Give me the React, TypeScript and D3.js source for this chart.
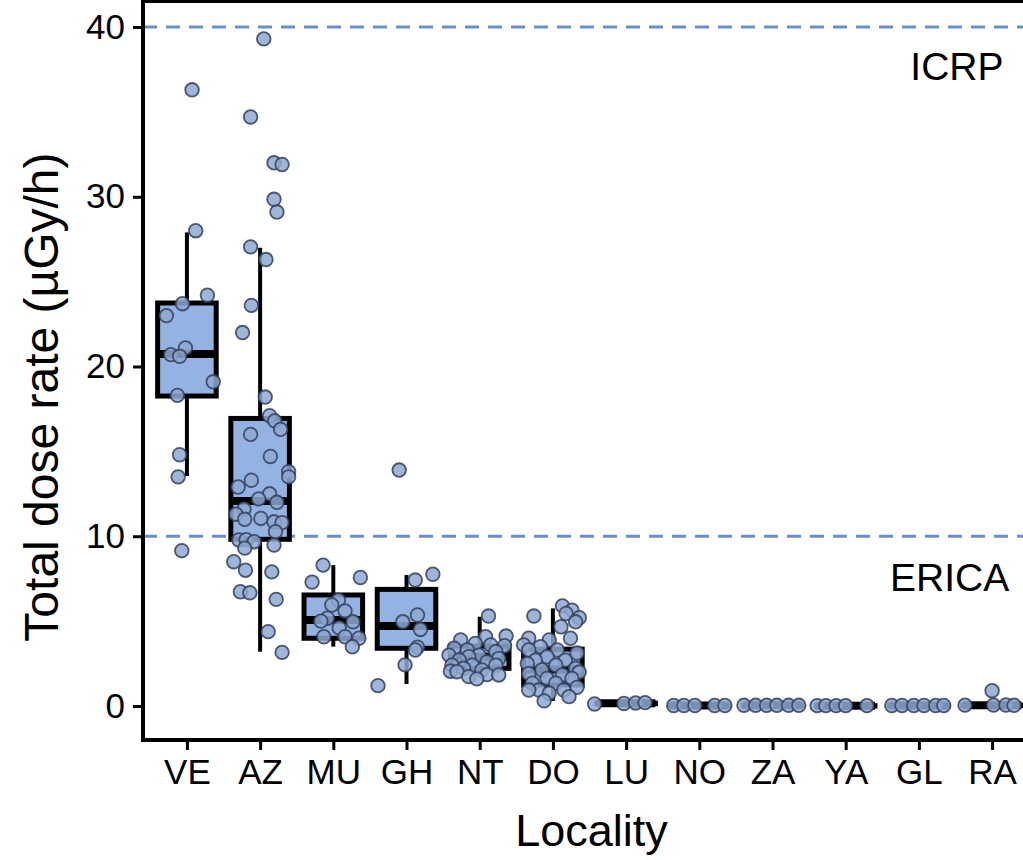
import React from "react";
import * as d3 from "d3";

const width = 1023;
const height = 860;
const margin = { top: 0, left: 143, right: -14, bottom: 120 };

const localities = ["VE", "AZ", "MU", "GH", "NT", "DO", "LU", "NO", "ZA", "YA", "GL", "RA"];
const yTicks = [0, 10, 20, 30, 40];
const limits = [{ label: "ICRP", value: 40, at: 10.52, textValue: 37.7 }, { label: "ERICA", value: 10, at: 10.42, textValue: 7.55 }];

// box stats: [lowerWhisker, q1, median, q3, upperWhisker]
const boxStats = [
  [13.55, 18.26, 20.74, 23.74, 27.9],
  [3.2, 9.82, 12.08, 16.94, 27.0],
  [3.5, 3.99, 5.07, 6.54, 8.3],
  [1.3, 3.4, 4.71, 6.87, 7.72],
  [1.73, 2.22, 2.9, 3.53, 5.26],
  [0.3, 1.24, 2.15, 3.35, 5.75],
  [0.12, 0.15, 0.16, 0.17, 0.2],
  [0.02, 0.03, 0.03, 0.03, 0.04],
  [0.03, 0.04, 0.04, 0.04, 0.05],
  [0.01, 0.02, 0.02, 0.02, 0.03],
  [0.02, 0.03, 0.03, 0.03, 0.04],
  [0.03, 0.05, 0.05, 0.05, 0.06],
];

// jittered observations: [offset in category units, dose rate]
const veDots = [[0.07, 36.3], [0.12, 28.0], [0.28, 24.2], [-0.06, 23.7], [-0.28, 23.0], [-0.02, 21.1], [-0.22, 20.7], [-0.1, 20.6], [0.36, 19.1], [-0.13, 18.3], [-0.1, 14.8], [-0.12, 13.5], [-0.07, 9.15]];
const azDots = [[0.05, 39.3], [-0.13, 34.7], [0.19, 32.0], [0.3, 31.9], [0.19, 29.85], [0.23, 29.1], [-0.13, 27.05], [0.08, 26.3], [-0.12, 23.6], [-0.24, 22.0], [0.07, 18.2], [0.13, 17.1], [0.2, 16.8], [0.28, 16.3], [-0.13, 16.0], [0.14, 14.7], [0.39, 13.8], [0.39, 13.5], [-0.12, 13.3], [-0.3, 12.9], [0.13, 12.5], [-0.02, 12.2], [0.23, 12.0], [-0.22, 11.6], [-0.33, 11.3], [-0.21, 11.0], [0.01, 11.05], [0.19, 10.85], [0.3, 10.8], [0.21, 10.27], [-0.29, 9.78], [-0.19, 9.8], [-0.08, 9.68], [0.19, 9.48], [-0.21, 9.3], [-0.36, 8.5], [-0.2, 8.0], [0.16, 7.9], [-0.27, 6.73], [-0.14, 6.67], [0.22, 6.28], [0.11, 4.38], [0.3, 3.16]];
const muDots = [[-0.14, 8.3], [-0.29, 7.3], [0.37, 7.57], [0.07, 6.24], [-0.02, 5.95], [0.16, 5.6], [0.27, 4.96], [-0.08, 5.17], [-0.17, 5.0], [0.08, 4.6], [-0.13, 4.08], [0.16, 4.08], [0.35, 3.99], [0.26, 3.49]];
const ghDots = [[-0.1, 13.9], [0.36, 7.76], [0.12, 7.42], [0.15, 5.36], [-0.05, 4.96], [0.19, 4.51], [0.15, 3.46], [0.12, 3.3], [-0.02, 2.42], [-0.39, 1.2]];
const ntDots = [[0.12, 5.3], [0.36, 4.12], [0.08, 4.08], [-0.26, 3.89], [-0.06, 3.69], [0.15, 3.6], [0.34, 3.55], [-0.35, 3.4], [-0.17, 3.3], [0.22, 3.2], [-0.42, 3.0], [-0.01, 3.0], [-0.15, 2.9], [0.26, 2.8], [-0.28, 2.71], [0.1, 2.6], [-0.1, 2.4], [0.22, 2.4], [-0.38, 2.4], [-0.22, 2.22], [0.03, 2.12], [-0.4, 2.05], [-0.31, 2.02], [0.1, 1.85], [0.26, 1.83], [-0.15, 1.73], [-0.04, 1.6]];
const doDots = [[-0.26, 5.3], [0.13, 5.9], [0.26, 5.65], [0.18, 5.45], [0.36, 5.2], [0.31, 4.96], [0.11, 4.67], [-0.33, 3.99], [0.24, 3.99], [-0.05, 3.89], [-0.4, 3.6], [-0.17, 3.5], [-0.33, 3.3], [0.06, 3.3], [0.33, 3.12], [-0.08, 2.9], [-0.24, 2.7], [0.17, 2.7], [-0.35, 2.5], [0.04, 2.4], [0.31, 2.22], [-0.15, 2.12], [0.36, 2.0], [-0.33, 1.9], [0.13, 1.83], [-0.08, 1.63], [0.26, 1.63], [-0.28, 1.34], [0.04, 1.34], [0.33, 1.1], [-0.19, 0.94], [0.15, 0.94], [-0.33, 0.94], [-0.05, 0.75], [0.22, 0.55], [-0.12, 0.3]];
const luDots = [[-0.43, 0.12], [-0.03, 0.15], [0.13, 0.18], [0.26, 0.2]];
const noDots = [[-0.35, 0.03], [-0.21, 0.03], [-0.06, 0.03], [0.21, 0.03], [0.35, 0.03]];
const zaDots = [[-0.39, 0.04], [-0.23, 0.04], [-0.08, 0.04], [0.06, 0.04], [0.22, 0.04], [0.36, 0.04]];
const yaDots = [[-0.39, 0.02], [-0.27, 0.02], [-0.13, 0.02], [0, 0.02], [0.29, 0.02]];
const glDots = [[-0.37, 0.03], [-0.23, 0.03], [-0.07, 0.03], [0.07, 0.03], [0.23, 0.03], [0.34, 0.03]];
const raDots = [[-0.37, 0.05], [0, 0.9], [0.02, 0.05], [0.19, 0.06], [0.3, 0.04]];

const dots = [veDots, azDots, muDots, ghDots, ntDots, doDots, luDots, noDots, zaDots, yaDots, glDots, raDots];

const font = "'Liberation Sans', Arial, Helvetica, sans-serif";

export default function App() {
  const xAxisRef = React.useRef(null);
  const yAxisRef = React.useRef(null);

  const xScale = d3.scalePoint().domain(localities).range([margin.left, 1036]).padding(0.6);
  const step = xScale.step();
  const yScale = d3.scaleLinear().domain([0, 40]).range([706, 27]);
  const axisY = yScale(-2);
  const boxW = step * 0.8;

  React.useEffect(() => {
    const xAxis = d3.axisBottom(xScale).tickSize(10).tickPadding(9);
    const yAxis = d3.axisLeft(yScale).tickValues(yTicks).tickSize(10).tickPadding(8);
    const gx = d3.select(xAxisRef.current).call(xAxis);
    const gy = d3.select(yAxisRef.current).call(yAxis);
    [gx, gy].forEach(g => {
      g.select(".domain").remove();
      g.selectAll(".tick line").attr("stroke", "#000").attr("stroke-width", 3);
      g.selectAll(".tick text").attr("fill", "#000").style("font-family", font).style("font-size", "35px");
    });
  }, []);

  // category position, possibly fractional, in data units
  const posX = (i: number, off: number) => (xScale(localities[0]) as number) + (i + off) * step;

  return (
    <svg width={width} height={height} style={{ position: "absolute", left: 0, top: 0, background: "#fff" }}>
      <line x1={margin.left} x2={width} y1={1.5} y2={1.5} stroke="#000" strokeWidth={3} />
      {limits.map(d => (
        <line key={d.label} x1={margin.left} x2={width} y1={yScale(d.value)} y2={yScale(d.value)}
          stroke="#6a8fcb" strokeWidth={3.2} strokeDasharray="14 9" />
      ))}
      {boxStats.map((s, i) => {
        const cx = xScale(localities[i]) as number;
        return (
          <g key={localities[i]}>
            <line x1={cx} x2={cx} y1={yScale(s[0])} y2={yScale(s[1])} stroke="#000" strokeWidth={4} />
            <line x1={cx} x2={cx} y1={yScale(s[3])} y2={yScale(s[4])} stroke="#000" strokeWidth={4} />
            <rect x={cx - boxW / 2} y={yScale(s[3])} width={boxW} height={Math.max(yScale(s[1]) - yScale(s[3]), 0.5)}
              fill="#94b3e3" stroke="#000" strokeWidth={5} />
            <line x1={cx - boxW / 2} x2={cx + boxW / 2} y1={yScale(s[2])} y2={yScale(s[2])} stroke="#000" strokeWidth={8} />
          </g>
        );
      })}
      {dots.map((arr, i) => arr.map((d, j) => (
        <circle key={`${i}-${j}`} cx={posX(i, d[0])} cy={yScale(d[1])} r={6.8}
          fill="#8ea8d2" fillOpacity={0.85} stroke="#34405a" strokeOpacity={0.85} strokeWidth={1.8} />
      )))}
      {limits.map(d => (
        <text key={d.label + "t"} x={posX(d.at, 0)} y={yScale(d.textValue)} textAnchor="middle" dominantBaseline="central"
          style={{ fontFamily: font, fontSize: 39 }} fill="#000">{d.label}</text>
      ))}
      <line x1={margin.left} x2={margin.left} y1={0} y2={axisY + 2} stroke="#000" strokeWidth={4} />
      <line x1={margin.left - 2} x2={width} y1={axisY} y2={axisY} stroke="#000" strokeWidth={4} />
      <g ref={xAxisRef} transform={`translate(0, ${axisY})`} />
      <g ref={yAxisRef} transform={`translate(${margin.left}, 0)`} />
      <text x={(margin.left + 1036) / 2 + 2} y={846} textAnchor="middle" style={{ fontFamily: font, fontSize: 45 }} fill="#000">Locality</text>
      <text transform={`translate(58, ${yScale(18.2)}) rotate(-90)`} textAnchor="middle" style={{ fontFamily: font, fontSize: 48 }} fill="#000">Total dose rate (µGy/h)</text>
    </svg>
  );
}
